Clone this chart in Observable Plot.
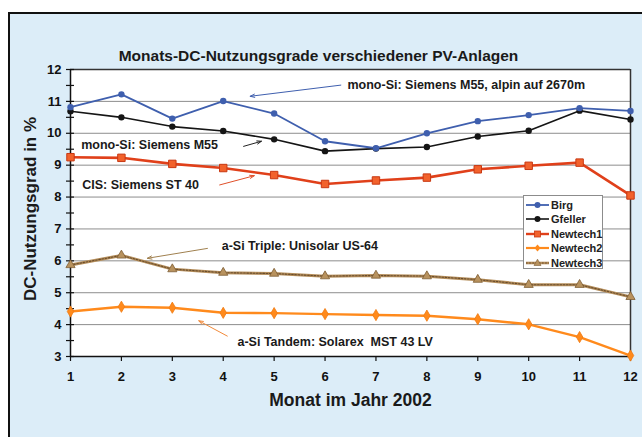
<!DOCTYPE html>
<html>
<head>
<meta charset="utf-8">
<script src="https://cdn.jsdelivr.net/npm/d3@7"></script>
<script src="https://cdn.jsdelivr.net/npm/@observablehq/plot@0.6"></script>
<style>
  html, body { margin: 0; padding: 0; background: #fff; }
  #wrap { position: relative; width: 642px; height: 437px; overflow: hidden; font-family: "Liberation Sans", Arial, sans-serif; }
  #box { position: absolute; left: 8px; top: 12px; width: 700px; height: 500px; background: #dcedf8; border-left: 2px solid #111; border-top: 2px solid #111; }
  #chart { position: absolute; left: 0; top: 0; }
  #legend { position: absolute; left: 523px; top: 195px; width: 80px; height: 74px; background: #fff; border: 1px solid #8c8c8c; box-sizing: border-box; }
  .lg { position: absolute; left: 2px; height: 14px; display: flex; align-items: center; font-size: 11px; font-weight: bold; color: #222; }
  .lg svg { margin-right: 1px; }
</style>
</head>
<body>
<div id="wrap">
  <div id="box"></div>
  <div id="chart"></div>
  <div id="legend"></div>
</div>
<script>
const months = [1, 2, 3, 4, 5, 6, 7, 8, 9, 10, 11, 12];
const birg     = [10.82, 11.22, 10.46, 11.01, 10.62, 9.75, 9.53, 10.00, 10.38, 10.57, 10.79, 10.70];
const gfeller  = [10.69, 10.50, 10.21, 10.07, 9.81, 9.44, 9.52, 9.57, 9.90, 10.08, 10.71, 10.43];
const newtech1 = [9.25, 9.23, 9.04, 8.91, 8.69, 8.41, 8.52, 8.61, 8.87, 8.98, 9.08, 8.05];
const newtech2 = [4.41, 4.56, 4.53, 4.37, 4.36, 4.33, 4.30, 4.28, 4.17, 4.01, 3.61, 3.03];
const newtech3 = [5.87, 6.17, 5.74, 5.63, 5.60, 5.52, 5.54, 5.52, 5.41, 5.25, 5.25, 4.87];

const seriesNames = ["Birg", "Gfeller", "Newtech1", "Newtech2", "Newtech3"];
const seriesValues = [birg, gfeller, newtech1, newtech2, newtech3];

const yTicks = [3, 4, 5, 6, 7, 8, 9, 10, 11, 12];
const yMinorTicks = [3, 3.5, 4, 4.5, 5, 5.5, 6, 6.5, 7, 7.5, 8, 8.5, 9, 9.5, 10, 10.5, 11, 11.5, 12];
const gridValues = [4, 5, 6, 7, 8, 9, 10, 11];

const titleText = "Monats-DC-Nutzungsgrade verschiedener PV-Anlagen";
const xLabel = "Monat im Jahr 2002";
const yLabel = "DC-Nutzungsgrad in %";

// annotations (data coordinates)
const noteText = ["mono-Si: Siemens M55, alpin auf 2670m", "mono-Si: Siemens M55", "CIS: Siemens ST 40", "a-Si Triple: Unisolar US-64", "a-Si Tandem: Solarex  MST 43 LV"];
const noteX = [6.44, 1.21, 1.23, 3.97, 4.28];
const noteY = [11.52, 9.62, 8.39, 6.45, 3.46];
const arrowX1 = [6.31, 4.40, 3.93, 3.69, 4.08];
const arrowY1 = [11.51, 9.59, 8.38, 6.39, 3.64];
const arrowX2 = [4.53, 4.75, 4.61, 2.51, 3.52];
const arrowY2 = [11.16, 9.75, 8.67, 6.08, 4.12];
const arrowColor = ["#3f5fae", "#222222", "#e0502a", "#a0804f", "#f28a3a"];

const C = {
  Birg: "#3f5fae",
  Gfeller: "#151515",
  Newtech1: "#e0401a",
  Newtech2: "#ff8a1c",
  Newtech3: "#a58150"
};

const data = [];
seriesNames.forEach((s, i) => months.forEach((m, j) => data.push({series: s, month: m, value: seriesValues[i][j]})));
const S = name => data.filter(d => d.series === name);
const notes = noteText.map((t, i) => ({t, x: noteX[i], y: noteY[i]}));
const arrows = arrowX1.map((x1, i) => ({x1, y1: arrowY1[i], x2: arrowX2[i], y2: arrowY2[i], c: arrowColor[i]}));

const FF = "'Liberation Sans', Arial, sans-serif";

const plot = Plot.plot({
  width: 642,
  height: 437,
  marginLeft: 70,
  marginRight: 12,
  marginTop: 69,
  marginBottom: 81,
  style: {background: "transparent", fontFamily: FF, color: "#111", overflow: "visible"},
  x: {domain: [1, 12]},
  y: {domain: [3, 12]},
  marks: [
    Plot.frame({fill: "white", stroke: null}),
    Plot.ruleY(gridValues, {stroke: "#8d8d8d", strokeWidth: 1}),
    Plot.ruleY([12], {stroke: "#333", strokeWidth: 1.5}),
    Plot.ruleX([12], {stroke: "#333", strokeWidth: 1.5}),
    Plot.ruleX([1], {stroke: "#111", strokeWidth: 1.5}),
    Plot.ruleY([3], {stroke: "#111", strokeWidth: 1.5}),
    Plot.axisY({ticks: yMinorTicks, tickSize: 8, dx: 4, text: null, stroke: "#111", strokeWidth: 1.2}),
    Plot.axisY({ticks: yTicks, tickSize: 0, tickPadding: 9, tickFormat: d => String(d), fontSize: 13, fontWeight: "bold", fill: "#111", label: null}),
    Plot.axisX({ticks: months, tickSize: 5, tickPadding: 10, tickFormat: d => String(d), fontSize: 13, fontWeight: "bold", fill: "#111", stroke: "#111", strokeWidth: 1.2, label: null}),
    // annotations
    Plot.arrow(arrows, {x1: "x1", y1: "y1", x2: "x2", y2: "y2", stroke: "c", strokeWidth: 1, headLength: 7, headAngle: 40, insetStart: 0, insetEnd: 0}),
    Plot.text(notes, {x: "x", y: "y", text: "t", textAnchor: "start", fontSize: 12.5, fontWeight: "bold", fill: "#1a1a1a", fontFamily: FF}),
    // series lines
    Plot.line(S("Newtech3"), {x: "month", y: "value", stroke: "#b48d5a", strokeWidth: 3}),
    Plot.line(S("Newtech3"), {x: "month", y: "value", stroke: "#6a4d2c", strokeWidth: 1.1, strokeDasharray: "1.6,1.6"}),
    Plot.line(S("Newtech2"), {x: "month", y: "value", stroke: C.Newtech2, strokeWidth: 2.4}),
    Plot.line(S("Newtech1"), {x: "month", y: "value", stroke: C.Newtech1, strokeWidth: 2.6}),
    Plot.line(S("Gfeller"), {x: "month", y: "value", stroke: C.Gfeller, strokeWidth: 1.6}),
    Plot.line(S("Birg"), {x: "month", y: "value", stroke: C.Birg, strokeWidth: 1.8}),
    // markers
    Plot.dot(S("Newtech3"), {x: "month", y: "value", symbol: "triangle", r: 3.4, fill: "#b8925e", stroke: "#7d5d34", strokeWidth: 0.8}),
    Plot.dot(S("Newtech2"), {x: "month", y: "value", symbol: "diamond", r: 3.4, fill: "#ff8a1c", stroke: "#f07a10", strokeWidth: 0.8}),
    Plot.dot(S("Newtech1"), {x: "month", y: "value", symbol: "square", r: 4.2, fill: "#f2622c", stroke: "#c83812", strokeWidth: 1}),
    Plot.dot(S("Gfeller"), {x: "month", y: "value", r: 3.2, fill: C.Gfeller}),
    Plot.dot(S("Birg"), {x: "month", y: "value", r: 3.2, fill: C.Birg}),
    // titles
    Plot.text([titleText], {frameAnchor: "top", dx: -32, dy: -20, fontSize: 15.5, fontWeight: "bold", fill: "#1a1a1a", fontFamily: FF}),
    Plot.text([xLabel], {frameAnchor: "bottom", dy: 49, fontSize: 17.5, fontWeight: "bold", fill: "#1a1a1a", fontFamily: FF}),
    Plot.text([yLabel], {frameAnchor: "left", textAnchor: "middle", dx: -40, dy: -4, rotate: -90, fontSize: 17, fontWeight: "bold", fill: "#1a1a1a", fontFamily: FF})
  ]
});
document.getElementById("chart").appendChild(plot);

// legend
const markerSvg = {
  Birg: `<line x1="0" y1="7" x2="23" y2="7" stroke="${C.Birg}" stroke-width="1.8"/><circle cx="11.5" cy="7" r="3" fill="${C.Birg}"/>`,
  Gfeller: `<line x1="0" y1="7" x2="23" y2="7" stroke="${C.Gfeller}" stroke-width="1.6"/><circle cx="11.5" cy="7" r="3" fill="${C.Gfeller}"/>`,
  Newtech1: `<line x1="0" y1="7" x2="23" y2="7" stroke="${C.Newtech1}" stroke-width="2.4"/><rect x="8.5" y="4" width="6" height="6" fill="#f2622c" stroke="#c83812" stroke-width="0.8"/>`,
  Newtech2: `<line x1="0" y1="7" x2="23" y2="7" stroke="${C.Newtech2}" stroke-width="2.2"/><path d="M11.5 3.5 L14.5 7 L11.5 10.5 L8.5 7 Z" fill="${C.Newtech2}"/>`,
  Newtech3: `<line x1="0" y1="7" x2="23" y2="7" stroke="#b48d5a" stroke-width="2.6"/><line x1="0" y1="7" x2="23" y2="7" stroke="#6a4d2c" stroke-width="1" stroke-dasharray="1.6,1.6"/><path d="M11.5 3.2 L15 9.5 L8 9.5 Z" fill="#b8925e" stroke="#7d5d34" stroke-width="0.6"/>`
};
const legend = document.getElementById("legend");
seriesNames.forEach((s, i) => {
  const row = document.createElement("div");
  row.className = "lg";
  row.style.top = (2 + i * 14.4) + "px";
  row.innerHTML = `<svg width="24" height="14">${markerSvg[s]}</svg><span>${s}</span>`;
  legend.appendChild(row);
});
</script>
</body>
</html>
